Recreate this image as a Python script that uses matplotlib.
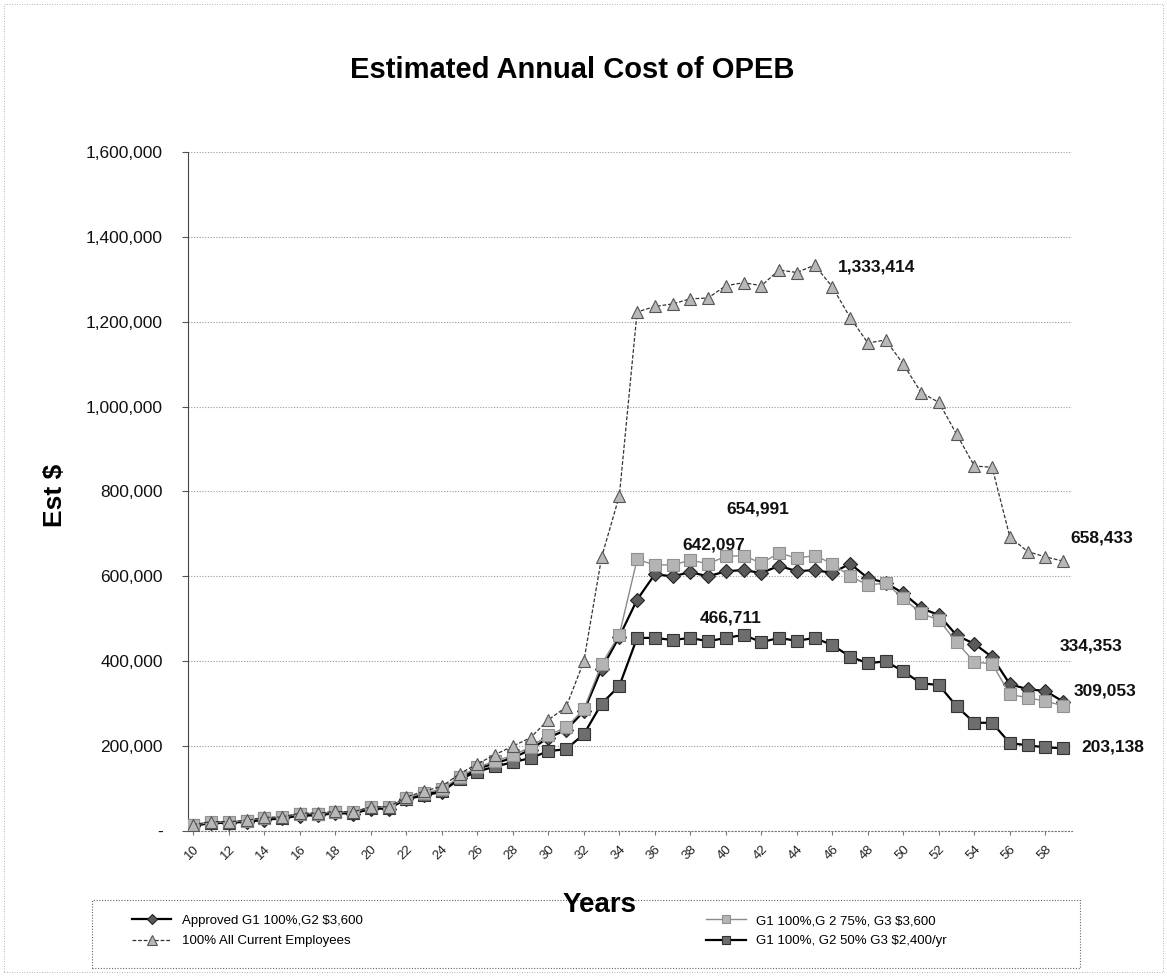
import numpy as np
import matplotlib.pyplot as plt
from matplotlib.patches import Rectangle

plt.rcParams['font.family'] = ['Liberation Sans', 'DejaVu Sans']

# Datos
years = list(range(10, 60))

approved = [12, 19, 19, 22, 26, 30, 36, 37, 42, 41, 52, 53, 75, 84, 92, 124, 146, 160,
            172, 192, 220, 238, 282, 382, 458, 545, 605, 600, 610, 600, 612, 615, 608,
            625, 612, 615, 608, 630, 596, 585, 560, 525, 509, 461, 441, 410, 346, 334,
            330, 305]
all_current = [15, 22, 22, 25, 32, 33, 42, 42, 46, 45, 57, 57, 80, 94, 105, 135, 158, 180,
               200, 220, 262, 292, 400, 645, 790, 1223, 1236, 1242, 1254, 1256, 1285,
               1292, 1285, 1322, 1316, 1333.414, 1282, 1210, 1150, 1157, 1100, 1033,
               1010, 935, 860, 857, 693, 658.433, 646, 636]
g2_75 = [14, 21, 21, 24, 31, 32, 41, 41, 45, 44, 56, 56, 78, 90, 98, 128, 150, 165, 178,
         198, 226, 244, 287, 393, 463, 640, 627, 627, 638, 630, 647, 649, 631, 654.991,
         643, 649, 630, 600, 580, 584, 548, 513, 497, 445, 398, 394, 322, 314, 306, 295]
g2_50 = [13, 20, 20, 23, 30, 31, 40, 40, 44, 43, 55, 55, 76, 86, 94, 122, 140, 152, 162,
         172, 188, 193, 228, 300, 342, 455, 455, 450, 455, 447, 455, 462, 445, 455, 448,
         455, 438, 411, 395, 400, 376, 348, 344, 294, 255, 255, 207, 202, 197, 195]

approved = np.array(approved) * 1000
all_current = np.array(all_current) * 1000
g2_75 = np.array(g2_75) * 1000
g2_50 = np.array(g2_50) * 1000

etiquetas = ["1,333,414", "658,433", "654,991", "642,097", "466,711",
             "334,353", "309,053", "203,138"]
etiq_x = [46.3, 59.4, 41.8, 39.3, 40.3, 58.8, 59.6, 60.0]
etiq_y = [1330000, 690000, 758000, 675000, 502000, 435000, 329000, 197000]
etiq_ha = ["left", "left", "center", "center", "center", "left", "left", "left"]

y_ticks = [0, 200000, 400000, 600000, 800000, 1000000, 1200000, 1400000, 1600000]
y_labels = ["-", "200,000", "400,000", "600,000", "800,000", "1,000,000",
            "1,200,000", "1,400,000", "1,600,000"]
x_ticks = list(range(10, 60, 2))

fig = plt.figure(figsize=(11.67, 9.76), dpi=100)
ax = fig.add_axes([188/1167, 1 - 831/976, (1072 - 188)/1167, (831 - 152)/976])

l1, = ax.plot(years, approved, color='black', lw=1.6, marker='D', ms=7,
              mfc='#5a5a5a', mec='#222222', mew=0.8, zorder=3)
l4, = ax.plot(years, g2_50, color='black', lw=1.6, marker='s', ms=8,
              mfc='#6e6e6e', mec='#333333', mew=0.8, zorder=3)
l3, = ax.plot(years, g2_75, color='#8a8a8a', lw=1.0, marker='s', ms=8.5,
              mfc='#b4b4b4', mec='#909090', mew=0.8, zorder=4)
l2, = ax.plot(years, all_current, color='#333333', lw=0.9, ls=(0, (3, 1.5)),
              marker='^', ms=9, mfc='#b8b8b8', mec='#555555', mew=0.8, zorder=5)

for t, x, y, ha in zip(etiquetas, etiq_x, etiq_y, etiq_ha):
    ax.text(x, y, t, ha=ha, va='center', fontsize=12.5, fontweight='bold',
            color='#111111')

ax.set_xlim(9.7, 59.5)
ax.set_ylim(0, 1600000)
ax.set_yticks(y_ticks)
ax.set_yticklabels(y_labels, fontsize=12.5, color='#111111')
ax.set_xticks(x_ticks)
ax.set_xticklabels([str(x) for x in x_ticks], rotation=45, ha='right', va='top',
                   rotation_mode='anchor', fontsize=9.5, color='#222222')
ax.tick_params(axis='y', length=4, pad=14, color='#555555')
ax.tick_params(axis='x', length=3, pad=6, color='#777777')

ax.grid(axis='y', color='#9a9a9a', lw=0.8, ls=(0, (1, 1.5)))
ax.set_axisbelow(True)
for s in ['top', 'right']:
    ax.spines[s].set_visible(False)
ax.spines['left'].set_linestyle((0, (1, 1)))
ax.spines['left'].set_color('#444444')
ax.spines['bottom'].set_linestyle((0, (1, 2)))
ax.spines['bottom'].set_color('#777777')

fig.text(0.49, 0.928, "Estimated Annual Cost of OPEB", ha='center', va='center',
         fontsize=21, fontweight='bold')
fig.text(55/1167, 1 - 495/976, "Est \\$", rotation=90, ha='center', va='center',
         fontsize=19, fontweight='bold')
fig.text(600/1167, 1 - 905/976, "Years", ha='center', va='center',
         fontsize=20, fontweight='bold')

# cuadro de leyenda
fig.patches.append(Rectangle((92/1167, 1 - 968/976), (1080 - 92)/1167, (968 - 900)/976,
                             transform=fig.transFigure, fill=False, lw=0.8,
                             ls=(0, (1, 1.5)), edgecolor='#666666'))
# borde del grafico
fig.patches.append(Rectangle((4/1167, 4/976), 1159/1167, 968/976,
                             transform=fig.transFigure, fill=False, lw=0.6,
                             ls=(0, (1, 2)), edgecolor='#999999'))

fig.legend([l1, l2, l3, l4],
           ["Approved G1 100%,G2 \\$3,600", "100% All Current Employees",
            "G1 100%,G 2 75%, G3 \\$3,600", "G1 100%, G2 50% G3 \\$2,400/yr"],
           ncol=2, loc='upper left', bbox_to_anchor=(120/1167, 1 - 903/976),
           frameon=False, fontsize=9.5, columnspacing=26, handlelength=3,
           labelspacing=0.6, markerscale=0.75)

fig.savefig("out.png", dpi=100)
